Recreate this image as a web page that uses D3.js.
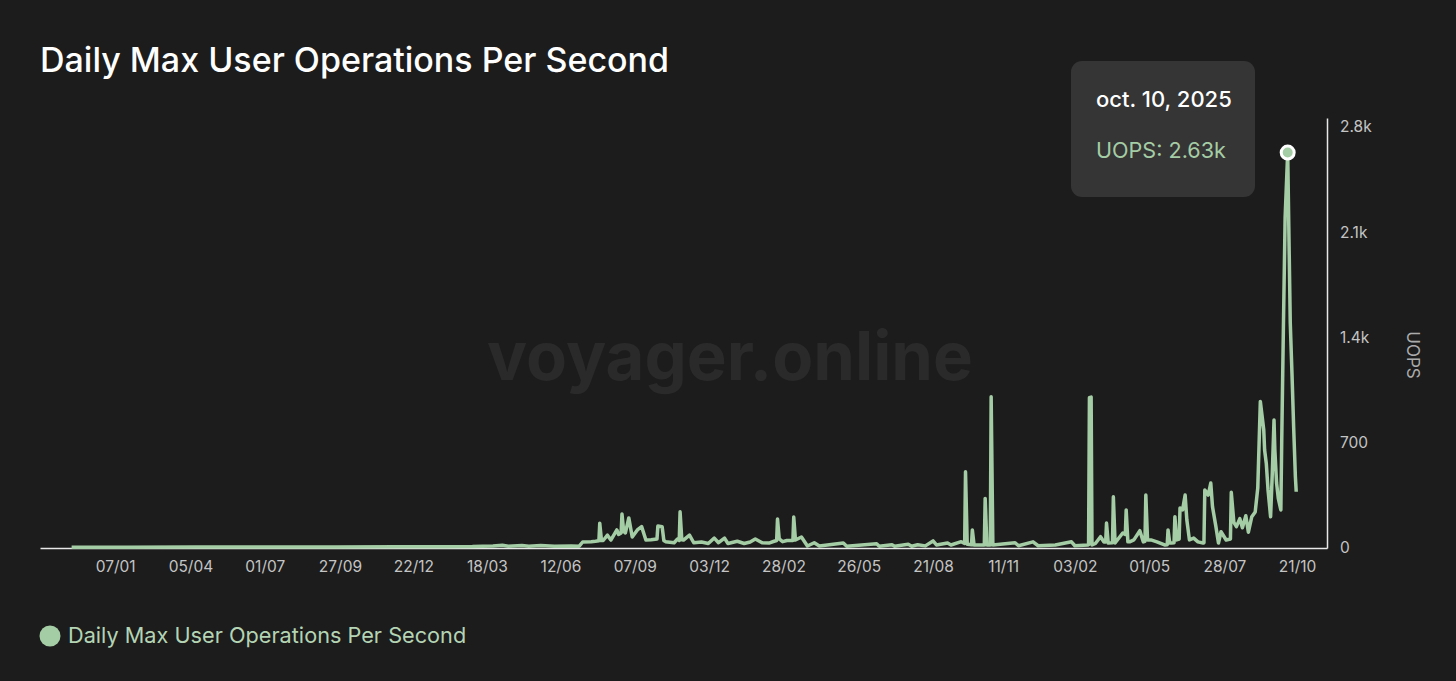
<!DOCTYPE html>
<html>
<head>
<meta charset="utf-8">
<script src="https://cdn.jsdelivr.net/npm/d3@7"></script>
<style>
	body { margin: 0; background: #1c1c1c; }
	svg { display: block; font-family: Inter, "Noto Sans", sans-serif; }
	.xaxis text, .yaxis text { fill: #c4c4c4; font-size: 15.5px; font-family: Inter, sans-serif; }
</style>
</head>
<body>
<svg width="1456" height="681"></svg>
<script>

// daily max UOPS (key days)
var dates = [
	"2021-11-17","2022-01-20","2022-04-10","2022-07-05","2022-09-20","2022-12-01","2023-01-25","2023-03-01",
	"2023-03-25","2023-04-05","2023-04-12","2023-04-28","2023-05-06","2023-05-20","2023-06-05","2023-06-25",
	"2023-07-04","2023-07-08","2023-07-18","2023-07-23","2023-07-27","2023-07-28","2023-07-30","2023-08-01",
	"2023-08-06","2023-08-10","2023-08-17","2023-08-19","2023-08-22","2023-08-23","2023-08-25","2023-08-27",
	"2023-08-31","2023-09-04","2023-09-10","2023-09-15","2023-09-20","2023-09-26","2023-10-03","2023-10-04",
	"2023-10-09","2023-10-11","2023-10-13","2023-10-23","2023-10-27","2023-10-29","2023-10-30","2023-11-01",
	"2023-11-03","2023-11-10","2023-11-15","2023-11-24","2023-12-02","2023-12-09","2023-12-14","2023-12-21",
	"2023-12-25","2024-01-05","2024-01-13","2024-01-20","2024-01-26","2024-02-03","2024-02-11","2024-02-17",
	"2024-02-20","2024-02-21","2024-02-23","2024-02-27","2024-03-03","2024-03-10","2024-03-11","2024-03-13",
	"2024-03-20","2024-03-27","2024-04-04","2024-04-10","2024-05-08","2024-05-12","2024-06-16","2024-06-19",
	"2024-07-04","2024-07-07","2024-07-23","2024-07-27","2024-08-03","2024-08-12","2024-08-21","2024-08-25",
	"2024-09-07","2024-09-11","2024-09-23","2024-09-27","2024-09-28","2024-09-30","2024-10-05","2024-10-06",
	"2024-10-08","2024-10-20","2024-10-21","2024-10-23","2024-10-27","2024-10-28","2024-10-30","2024-11-25",
	"2024-11-29","2024-12-16","2024-12-22","2025-01-11","2025-01-30","2025-02-03","2025-02-18","2025-02-19",
	"2025-02-20","2025-02-22","2025-02-23","2025-02-27","2025-03-05","2025-03-09","2025-03-11","2025-03-12",
	"2025-03-14","2025-03-19","2025-03-20","2025-03-22","2025-03-31","2025-04-03","2025-04-04","2025-04-06",
	"2025-04-08","2025-04-13","2025-04-20","2025-04-24","2025-04-26","2025-04-27","2025-04-29","2025-05-03",
	"2025-05-10","2025-05-19","2025-05-22","2025-05-23","2025-05-25","2025-05-27","2025-05-30","2025-05-31",
	"2025-06-02","2025-06-05","2025-06-06","2025-06-09","2025-06-12","2025-06-14","2025-06-17","2025-06-22",
	"2025-06-27","2025-07-03","2025-07-04","2025-07-05","2025-07-09","2025-07-12","2025-07-14","2025-07-18",
	"2025-07-21","2025-07-24","2025-07-30","2025-08-04","2025-08-05","2025-08-08","2025-08-11","2025-08-15",
	"2025-08-18","2025-08-22","2025-08-25","2025-08-29","2025-09-02","2025-09-05","2025-09-08","2025-09-10",
	"2025-09-12","2025-09-13","2025-09-15","2025-09-17","2025-09-20","2025-09-22","2025-09-24","2025-09-25",
	"2025-09-27","2025-09-29","2025-10-02","2025-10-03","2025-10-05","2025-10-07","2025-10-10","2025-10-13",
	"2025-10-15","2025-10-17","2025-10-19","2025-10-20"
];
var uops = [
	5, 5, 6, 6, 7, 8, 9, 10,
	14, 18, 11, 17, 12, 16, 12, 14,
	12, 40, 42, 45, 48, 165, 50, 50,
	85, 53, 120, 90, 100, 226, 110, 100,
	200, 73, 120, 142, 53, 55, 60, 146,
	142, 50, 42, 35, 60, 50, 241, 55,
	53, 86, 35, 40, 30, 66, 35, 66,
	30, 45, 30, 40, 60, 35, 33, 45,
	50, 193, 60, 42, 50, 50, 206, 53,
	73, 13, 35, 13, 33, 12, 28, 12,
	22, 12, 25, 12, 22, 14, 47, 20,
	33, 20, 42, 30, 507, 25, 22, 120,
	20, 20, 330, 20, 20, 1006, 20, 35,
	15, 41, 15, 20, 41, 15, 20, 22,
	1000, 1004, 20, 30, 75, 40, 40, 166,
	33, 35, 341, 33, 100, 90, 253, 41,
	41, 54, 115, 41, 45, 352, 54, 54,
	41, 20, 22, 120, 33, 33, 35, 208,
	54, 60, 266, 253, 352, 186, 54, 66,
	41, 33, 35, 386, 352, 432, 275, 142,
	33, 108, 53, 60, 370, 170, 142, 195,
	135, 215, 105, 208, 240, 400, 975, 880,
	785, 652, 560, 386, 208, 500, 851, 650,
	432, 330, 253, 700, 1472, 2200, 2630, 1500,
	1164, 800, 474, 374
];

var xTicks = ["2022-01-07","2022-04-05","2022-07-01","2022-09-27","2022-12-22","2023-03-18","2023-06-12",
	"2023-09-07","2023-12-03","2024-02-28","2024-05-26","2024-08-21","2024-11-11","2025-02-03",
	"2025-05-01","2025-07-28","2025-10-21"];
var yTicks = [0, 700, 1400, 2100, 2800];

var highlightDate = "2025-10-10";

var parse = d3.timeParse("%Y-%m-%d");
var data = dates.map(function (d, i) { return { date: parse(d), value: uops[i] }; });

var svg = d3.select("svg");
var lineColor = "#a5cda5";

var x = d3.scaleTime()
	.domain([parse("2021-10-11"), parse("2025-11-25")])
	.range([40, 1327]);

var y = d3.scaleLinear()
	.domain([0, 2860])
	.range([548, 118]);

// title
svg.append("text")
	.attr("x", 40)
	.attr("y", 72)
	.attr("fill", "#ffffff")
	.attr("font-size", "34px")
	.attr("font-weight", 500)
	.text("Daily Max User Operations Per Second");

// watermark
svg.append("text")
	.attr("x", 730)
	.attr("y", 380)
	.attr("text-anchor", "middle")
	.attr("fill", "#2a2a2a")
	.attr("font-size", "67px")
	.attr("font-weight", 700)
	.text("voyager.online");

// x axis
var xAxis = svg.append("g")
	.attr("class", "xaxis")
	.attr("transform", "translate(0,548)")
	.call(d3.axisBottom(x)
		.tickValues(xTicks.map(parse))
		.tickFormat(d3.timeFormat("%d/%m"))
		.tickSize(0)
		.tickPadding(13));
xAxis.select(".domain").attr("stroke", "#e8e8e8").attr("stroke-width", 1.5);

// y axis on the right
var yAxis = svg.append("g")
	.attr("class", "yaxis")
	.attr("transform", "translate(1327,0)")
	.call(d3.axisRight(y)
		.tickValues(yTicks)
		.tickFormat(function (d) { return d === 0 ? "0" : (d >= 1000 ? d3.format(".1f")(d / 1000) + "k" : d); })
		.tickSize(0)
		.tickPadding(13));
yAxis.select(".domain").attr("stroke", "#e8e8e8").attr("stroke-width", 1.5);

svg.append("text")
	.attr("transform", "translate(1407,355) rotate(90)")
	.attr("text-anchor", "middle")
	.attr("fill", "#ababab")
	.attr("font-size", "17px")
	.text("UOPS");

// the line
var line = d3.line()
	.x(function (d) { return x(d.date); })
	.y(function (d) { return y(d.value); });

svg.append("path")
	.datum(data)
	.attr("fill", "none")
	.attr("stroke", lineColor)
	.attr("stroke-width", 3.5)
	.attr("stroke-linejoin", "round")
	.attr("d", line);

// highlighted point + tooltip
var hp = data.find(function (d) { return +d.date === +parse(highlightDate); });
svg.append("circle")
	.attr("cx", x(hp.date))
	.attr("cy", y(hp.value))
	.attr("r", 6.5)
	.attr("fill", lineColor)
	.attr("stroke", "#ffffff")
	.attr("stroke-width", 3);

var tip = svg.append("g").attr("transform", "translate(1071,61)");
tip.append("rect")
	.attr("width", 184)
	.attr("height", 136)
	.attr("rx", 11)
	.attr("fill", "#353535");
tip.append("text")
	.attr("x", 25)
	.attr("y", 46)
	.attr("fill", "#ffffff")
	.attr("font-size", "22px")
	.attr("font-weight", 500)
	.text("oct. 10, 2025");
tip.append("text")
	.attr("x", 25)
	.attr("y", 97)
	.attr("fill", lineColor)
	.attr("font-size", "21.6px")
	.text("UOPS: " + d3.format(".2f")(hp.value / 1000) + "k");

// legend
svg.append("circle")
	.attr("cx", 50)
	.attr("cy", 636)
	.attr("r", 10.5)
	.attr("fill", lineColor);
svg.append("text")
	.attr("x", 68)
	.attr("y", 643)
	.attr("fill", "#b4d4b4")
	.attr("font-size", "21.7px")
	.text("Daily Max User Operations Per Second");

</script>
</body>
</html>
